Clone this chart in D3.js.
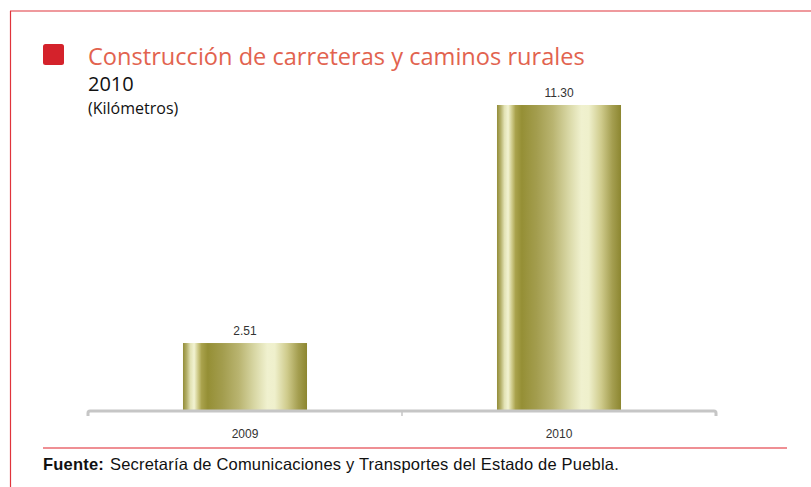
<!DOCTYPE html>
<html>
<head>
<meta charset="utf-8">
<script src="https://cdn.jsdelivr.net/npm/d3@7"></script>
<style>
  html, body { margin: 0; padding: 0; background: #fff; }
  svg { display: block; }
</style>
</head>
<body>
<svg id="chart" width="811" height="487"></svg>
<script>
// Kilómetros construidos por año
const categories = ["2009", "2010"];
const values = [2.51, 11.30];
const valueLabels = ["2.51", "11.30"];

const titleText = "Construcción de carreteras y caminos rurales";
const yearText = "2010";
const unitText = "(Kilómetros)";
const sourceLabel = "Fuente:";
const sourceText = "Secretaría de Comunicaciones y Transportes del Estado de Puebla.";

const svg = d3.select("#chart");
const W = 811, H = 487;

// Marco rojo: líneas superior e izquierda
svg.append("line").attr("x1", 10).attr("x2", W).attr("y1", 11).attr("y2", 11)
  .attr("stroke", "#e0343c").attr("stroke-width", 1.2);
svg.append("line").attr("x1", 10.5).attr("x2", 10.5).attr("y1", 11).attr("y2", H)
  .attr("stroke", "#e0343c").attr("stroke-width", 1.2);

// Encabezado
svg.append("rect").attr("x", 43).attr("y", 44).attr("width", 21).attr("height", 21)
  .attr("rx", 2.5).attr("fill", "#d4222b");
svg.append("text").attr("x", 88).attr("y", 65)
  .attr("font-family", "'Open Sans', sans-serif").attr("font-size", 23.6)
  .attr("fill", "#e2634f").text(titleText);
svg.append("text").attr("x", 88).attr("y", 91)
  .attr("font-family", "'Open Sans', sans-serif").attr("font-size", 20)
  .attr("fill", "#111").text(yearText);
svg.append("text").attr("x", 88).attr("y", 114)
  .attr("font-family", "'Open Sans', sans-serif").attr("font-size", 16)
  .attr("fill", "#111").text(unitText);

// Escalas
const x = d3.scaleBand().domain(categories).range([88, 716])
  .paddingInner(0.605).paddingOuter(0.3025);
const baseY = 411;
const y = d3.scaleLinear().domain([0, 11.30]).range([baseY, 105]);

// Degradado metálico de las barras
const defs = svg.append("defs");
const grad = defs.append("linearGradient").attr("id", "gold")
  .attr("x1", "0%").attr("x2", "100%").attr("y1", "0%").attr("y2", "0%");
[
  [0, "#938d38"], [3, "#b4b06a"], [6, "#e2e2b4"], [9, "#f2f3d2"],
  [12, "#cfcb8a"], [15, "#a9a24c"], [20, "#958f35"], [32, "#a39d4e"],
  [45, "#b9b470"], [58, "#d9d8a6"], [68, "#f0f1cf"], [74, "#eff0cc"],
  [84, "#cfcb8c"], [93, "#a49e50"], [100, "#8c8630"]
].forEach(([o, c]) => grad.append("stop").attr("offset", o + "%").attr("stop-color", c));

svg.append("g").selectAll("rect").data(categories).join("rect")
  .attr("x", d => x(d))
  .attr("width", x.bandwidth())
  .attr("y", (d, i) => y(values[i]))
  .attr("height", (d, i) => baseY - y(values[i]))
  .attr("fill", "url(#gold)");

// Etiquetas de valor
svg.append("g").selectAll("text").data(categories).join("text")
  .attr("x", d => x(d) + x.bandwidth() / 2)
  .attr("y", (d, i) => y(values[i]) - 8)
  .attr("text-anchor", "middle")
  .attr("font-family", "'Liberation Sans', sans-serif")
  .attr("font-size", 12).attr("fill", "#333")
  .text((d, i) => valueLabels[i]);

// Eje horizontal gris con remates
const axisG = svg.append("g")
  .attr("transform", `translate(0,${baseY + 1})`)
  .call(d3.axisBottom(x).tickSize(0).tickPadding(17).tickFormat(d => d));
axisG.select(".domain").remove();
axisG.selectAll("text")
  .attr("font-family", "'Liberation Sans', sans-serif")
  .attr("font-size", 12).attr("fill", "#333");

const r = x.range();
const mid = (r[0] + r[1]) / 2;
svg.append("path")
  .attr("d", `M${r[0]},${baseY + 5} L${r[0]},${baseY + 2} Q${r[0]},${baseY} ${r[0] + 2},${baseY} L${r[1] - 2},${baseY} Q${r[1]},${baseY} ${r[1]},${baseY + 2} L${r[1]},${baseY + 5}`)
  .attr("fill", "none").attr("stroke", "#c6c6c6").attr("stroke-width", 3);
svg.append("line").attr("x1", mid).attr("x2", mid).attr("y1", baseY).attr("y2", baseY + 5)
  .attr("stroke", "#c6c6c6").attr("stroke-width", 1.5);

// Línea roja y fuente
svg.append("line").attr("x1", 43).attr("x2", 787).attr("y1", 448).attr("y2", 448)
  .attr("stroke", "#e0202a").attr("stroke-width", 1.2);
const src = svg.append("text").attr("x", 43).attr("y", 470)
  .attr("font-family", "'Liberation Sans', sans-serif")
  .attr("font-size", 16.5).attr("letter-spacing", 0.2).attr("fill", "#111");
src.append("tspan").attr("font-weight", "bold").text(sourceLabel);
src.append("tspan").attr("dx", 6).text(sourceText);
</script>
</body>
</html>
